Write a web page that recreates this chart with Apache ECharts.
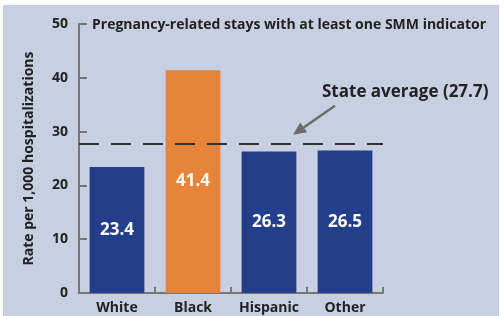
<!DOCTYPE html>
<html><head><meta charset="utf-8">
<script src="https://cdn.jsdelivr.net/npm/echarts@6/dist/echarts.min.js"></script>
<style>html,body{margin:0;padding:0;background:#fff}#c{position:absolute;left:3px;top:5px;width:496px;height:311px;background:#c9cfe3}</style>
</head><body><div id="c"></div>
<script>
const categories = ["White", "Black", "Hispanic", "Other"];
const rates = [23.4, 41.4, 26.3, 26.5];
const stateAverage = 27.7;
const yTicks = [0, 10, 20, 30, 40, 50];
const title = "Pregnancy-related stays with at least one SMM indicator";
const avgLabel = "State average (27.7)";
const yName = "Rate per 1,000 hospitalizations";

const FONT = "'Open Sans', sans-serif";
const chart = echarts.init(document.getElementById('c'), null, {renderer: 'canvas'});
const colors = ['#233e8b', '#e8833a', '#233e8b', '#233e8b'];
chart.setOption({
  backgroundColor: '#c9cfe3',
  animation: false,
  grid: {left: 76, right: 116, top: 19, bottom: 23},
  xAxis: {
    type: 'category', data: categories,
    axisLine: {lineStyle: {color: '#777', width: 2}},
    axisTick: {show: true, inside: true, length: 6, lineStyle: {color: '#777', width: 2}},
    axisLabel: {interval: 0, color: '#222', fontFamily: FONT, fontWeight: 'bold', fontSize: 14, margin: 8}
  },
  yAxis: {
    type: 'value', min: yTicks[0], max: yTicks[yTicks.length - 1], interval: 10,
    name: yName, nameLocation: 'middle', nameGap: 43, nameRotate: 90,
    nameTextStyle: {color: '#222', fontFamily: FONT, fontWeight: 'bold', fontSize: 14},
    axisLine: {show: true, lineStyle: {color: '#777', width: 2}},
    axisTick: {show: true, inside: true, length: 8, lineStyle: {color: '#777', width: 2}},
    splitLine: {show: false},
    axisLabel: {color: '#222', fontFamily: FONT, fontWeight: 'bold', fontSize: 14, margin: 11}
  },
  series: [{
    type: 'bar', barWidth: '72%',
    data: rates.map((v, i) => ({value: v, itemStyle: {color: colors[i]}})),
    label: {show: true, position: 'inside', color: '#fff', fontFamily: FONT, fontWeight: 'bold', fontSize: 17,
      formatter: p => p.value.toFixed(1)},
    markLine: {
      silent: true, symbol: ['none', 'none'],
      lineStyle: {color: '#333', width: 2, type: [20, 12]},
      label: {show: false},
      data: [{yAxis: stateAverage}]
    }
  }]
});

// annotations placed relative to the axes
const gridX0 = 76;
const gridW = 496 - 76 - 116;
const yPix = v => chart.convertToPixel({yAxisIndex: 0}, v);
const tip = [gridX0 + 0.704 * gridW, yPix(29.4)];
const tail = [gridX0 + 0.842 * gridW, yPix(34.8)];
const ang = Math.atan2(tip[1] - tail[1], tip[0] - tail[0]);
const hl = 13, hw = 6;
const bx = tip[0] - hl * Math.cos(ang), by = tip[1] - hl * Math.sin(ang);
const px = -Math.sin(ang), py = Math.cos(ang);
chart.setOption({
  graphic: [
    {type: 'text', x: 89, y: yPix(50) + 1, style: {text: title, fill: '#222', font: "bold 14px 'Open Sans', sans-serif", textVerticalAlign: 'middle'}},
    {type: 'text', x: 319, y: yPix(37.3), style: {text: avgLabel, fill: '#222', font: "bold 17px 'Open Sans', sans-serif", textVerticalAlign: 'middle'}},
    {type: 'line', shape: {x1: tail[0], y1: tail[1], x2: bx, y2: by}, style: {stroke: '#6b6b6b', lineWidth: 2.5}},
    {type: 'polygon', shape: {points: [[tip[0], tip[1]], [bx + px * hw, by + py * hw], [bx - px * hw, by - py * hw]]}, style: {fill: '#6b6b6b'}}
  ]
});
</script></body></html>
